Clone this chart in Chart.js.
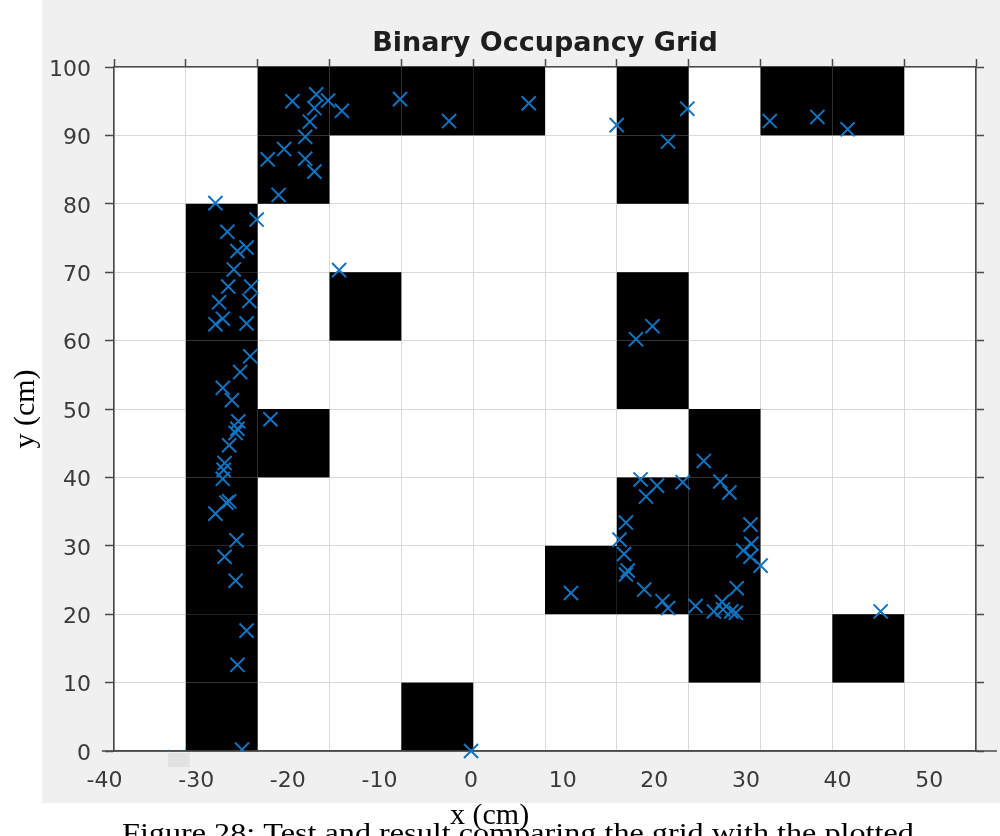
<!DOCTYPE html>
<html>
<head>
<meta charset="utf-8">
<title>Binary Occupancy Grid</title>
<script src="https://cdn.jsdelivr.net/npm/chart.js@4.4.1/dist/chart.umd.min.js"></script>
<style>
  html, body { margin: 0; padding: 0; background: #fff; }
  #wrap { width: 1000px; height: 836px; position: relative; }
  canvas { display: block; }
</style>
</head>
<body>
<div id="wrap"><canvas id="grid" width="1000" height="836"></canvas></div>
<script>
// Cell boundaries of the occupancy grid along x (cm)
const cellEdgesX = [-38.97, -31.13, -23.29, -15.45, -7.61, 0.23, 8.07, 15.91, 23.75, 31.59, 39.43, 47.27, 55.11];
// Cell boundaries along y (cm)
const cellEdgesY = [0, 10, 20, 30, 40, 50, 60, 70, 80, 90, 100];
// Occupied cells: one row per y band, bottom (0-10) to top (90-100); 1 = occupied
const occupancy = [
  [0, 1, 0, 0, 1, 0, 0, 0, 0, 0, 0, 0],
  [0, 1, 0, 0, 0, 0, 0, 0, 1, 0, 1, 0],
  [0, 1, 0, 0, 0, 0, 1, 1, 1, 0, 0, 0],
  [0, 1, 0, 0, 0, 0, 0, 1, 1, 0, 0, 0],
  [0, 1, 1, 0, 0, 0, 0, 0, 1, 0, 0, 0],
  [0, 1, 0, 0, 0, 0, 0, 1, 0, 0, 0, 0],
  [0, 1, 0, 1, 0, 0, 0, 1, 0, 0, 0, 0],
  [0, 1, 0, 0, 0, 0, 0, 0, 0, 0, 0, 0],
  [0, 0, 1, 0, 0, 0, 0, 1, 0, 0, 0, 0],
  [0, 0, 1, 1, 1, 1, 0, 1, 0, 1, 1, 0]
];
// Axis tick labels
const xTickLabels = [-40, -30, -20, -10, 0, 10, 20, 30, 40, 50];
const yTickLabels = [0, 10, 20, 30, 40, 50, 60, 70, 80, 90, 100];

// Measured sensor points (cm)
const scanX = [
  -27.9, -26.6, -25.5, -24.5, -25.9, -26.5, -24.0, -23.4,
  -19.5, -16.9, -17.1, -17.6, -18.1, -20.4, -22.2, -18.1, -17.1, -21.0,
  -15.6, -14.1, -7.75, -2.4, 6.3, 15.9, 21.5, 23.6, 32.6, 37.8, 41.1,
  -27.5, -24.2, -27.1, -27.9, -24.5, -24.1, -25.2, -27.1, -26.1,
  -25.4, -25.5, -25.7, -21.9, -26.4, -26.9, -27.0, -27.1, -26.7, -26.4, -27.9,
  -25.6, -26.9, -25.7, -24.5, -25.5, -25.0, -32.3,
  -14.4, 18.0, 19.8,
  25.4, 27.2, 28.2, 18.5, 20.3, 19.1, 23.1,
  30.5, 30.6, 29.7, 30.5, 31.6,
  16.9, 16.2, 16.7, 17.1, 16.9, 10.9,
  18.9, 20.9, 21.5, 24.5, 29.0, 27.4, 26.5, 27.5, 28.4, 28.9,
  44.7
];
const scanY = [
  80.1, 75.9, 73.1, 73.6, 70.4, 67.9, 67.9, 77.7,
  95.0, 96.0, 94.0, 92.0, 89.8, 88.0, 86.5, 86.6, 84.7, 81.3,
  95.1, 93.6, 95.3, 92.1, 94.7, 91.5, 89.1, 93.9, 92.1, 92.7, 90.9,
  65.6, 65.8, 63.2, 62.4, 62.5, 57.7, 55.4, 53.1, 51.3,
  48.2, 47.1, 46.5, 48.5, 44.7, 42.1, 41.1, 39.8, 36.3, 36.5, 34.7,
  30.8, 28.4, 24.9, 17.6, 12.6, 0.2, -0.9,
  70.3, 60.2, 62.1,
  42.4, 39.4, 37.8, 39.7, 38.8, 37.2, 39.3,
  33.1, 30.3, 29.3, 28.4, 27.1,
  33.4, 30.9, 28.8, 26.4, 25.8, 23.1,
  23.6, 21.9, 20.9, 21.2, 23.8, 21.8, 20.4, 20.7, 20.4, 20.2,
  20.4
];
// Robot start position (cm)
const startX = [0];
const startY = [0];

const axisColor = '#4a4a4a';
const gridColor = '#d9d9d9';
const tickColor = '#3a3a3a';
const markerColor = 'rgb(18,116,192)';
const sansFont = 'DejaVu Sans';
const serifFont = 'Liberation Serif';

const toPoints = (xs, ys) => xs.map((x, i) => ({ x: x, y: ys[i] }));

// Figure background, occupancy cells and free text around the axes
const figurePlugin = {
  id: 'figure',
  beforeDraw(chart) {
    const { ctx, chartArea: a } = chart;
    ctx.save();
    ctx.fillStyle = '#ffffff';
    ctx.fillRect(0, 0, chart.width, chart.height);
    ctx.fillStyle = '#f0f0f0';
    ctx.fillRect(42, 0, chart.width - 42, 803);
    ctx.fillStyle = '#ffffff';
    ctx.fillRect(a.left, a.top, a.right - a.left, a.bottom - a.top);
    ctx.restore();
  },
  beforeDatasetsDraw(chart) {
    const { ctx } = chart;
    const xs = chart.scales.x, ys = chart.scales.y;
    ctx.save();
    ctx.fillStyle = '#000000';
    occupancy.forEach((row, r) => {
      row.forEach((occ, c) => {
        if (!occ) return;
        const x0 = xs.getPixelForValue(cellEdgesX[c]);
        const x1 = xs.getPixelForValue(cellEdgesX[c + 1]);
        const y0 = ys.getPixelForValue(cellEdgesY[r + 1]);
        const y1 = ys.getPixelForValue(cellEdgesY[r]);
        ctx.fillRect(x0, y0, x1 - x0, y1 - y0);
      });
    });
    // bottom axis line of the labelled x axis, which runs a little wider than the grid
    const yb = ys.getPixelForValue(0);
    ctx.strokeStyle = axisColor;
    ctx.lineWidth = 1.6;
    ctx.beginPath();
    ctx.moveTo(xs.getPixelForValue(-40.3), yb);
    ctx.lineTo(xs.getPixelForValue(57.4), yb);
    ctx.stroke();
    ctx.restore();
  },
  afterDraw(chart) {
    const { ctx } = chart;
    ctx.save();
    ctx.fillStyle = '#e2e2e2';
    ctx.fillRect(168, 753, 22, 14);
    ctx.fillStyle = '#000000';
    ctx.textBaseline = 'alphabetic';
    ctx.textAlign = 'left';
    ctx.font = '30px "' + serifFont + '"';
    ctx.fillText('x (cm)', 450, 824);
    // caption line, set slightly wide
    ctx.translate(122, 842);
    ctx.scale(1.15, 1);
    ctx.font = '28px "' + serifFont + '"';
    ctx.fillText('Figure 28: Test and result comparing the grid with the plotted', 0, 0);
    ctx.restore();
  }
};

new Chart(document.getElementById('grid'), {
  type: 'scatter',
  data: {
    datasets: [
      {
        label: 'scan',
        data: toPoints(scanX, scanY),
        xAxisID: 'x',
        yAxisID: 'y',
        pointStyle: 'crossRot',
        pointRadius: 10,
        pointBorderWidth: 2,
        borderColor: markerColor,
        backgroundColor: markerColor,
        clip: 0
      },
      {
        label: 'start',
        data: toPoints(startX, startY),
        xAxisID: 'x',
        yAxisID: 'y',
        pointStyle: 'crossRot',
        pointRadius: 10,
        pointBorderWidth: 2,
        borderColor: markerColor,
        backgroundColor: markerColor,
        clip: false
      }
    ]
  },
  options: {
    responsive: false,
    devicePixelRatio: 1,
    animation: false,
    events: [],
    layout: { padding: 0 },
    plugins: {
      legend: { display: false },
      tooltip: { enabled: false },
      title: { display: false }
    },
    scales: {
      x: {
        type: 'linear',
        position: 'bottom',
        bounds: 'data',
        min: cellEdgesX[0],
        max: cellEdgesX[cellEdgesX.length - 1],
        afterBuildTicks: s => { s.ticks = xTickLabels.map(v => ({ value: v })); },
        afterFit: s => { s.height = 85; },
        grid: { display: true, drawOnChartArea: false, drawTicks: false },
        border: { display: true, color: axisColor, width: 1.6 },
        ticks: {
          autoSkip: false, maxRotation: 0, minRotation: 0, padding: 17,
          color: tickColor, font: { family: sansFont, size: 22 },
          callback: v => String(v)
        }
      },
      x2: {
        type: 'linear',
        position: 'top',
        bounds: 'data',
        min: cellEdgesX[0],
        max: cellEdgesX[cellEdgesX.length - 1],
        afterBuildTicks: s => { s.ticks = cellEdgesX.map(v => ({ value: v })); },
        afterFit: s => { s.height = 67; },
        grid: { color: gridColor, tickColor: axisColor, tickLength: 8, lineWidth: 1, tickWidth: 1.5 },
        border: { display: true, color: axisColor, width: 1.6 },
        ticks: { display: false },
        title: {
          display: true,
          text: 'Binary Occupancy Grid',
          color: '#1e1e1e',
          font: { family: sansFont, size: 27, weight: 'bold' },
          padding: { top: 28, bottom: 0 }
        }
      },
      y: {
        type: 'linear',
        position: 'left',
        bounds: 'data',
        min: 0,
        max: 100,
        afterBuildTicks: s => { s.ticks = yTickLabels.map(v => ({ value: v })); },
        afterFit: s => { s.width = 114; },
        grid: { color: gridColor, tickColor: axisColor, tickLength: 9, lineWidth: 1, tickWidth: 1.5 },
        border: { display: true, color: axisColor, width: 1.6 },
        ticks: {
          autoSkip: false, padding: 14, labelOffset: 3, color: tickColor,
          font: { family: sansFont, size: 22 },
          callback: v => String(v)
        },
        title: {
          display: true,
          text: 'y (cm)',
          color: '#000000',
          font: { family: serifFont, size: 30 },
          padding: { top: 8, bottom: 0 }
        }
      },
      y2: {
        type: 'linear',
        position: 'right',
        bounds: 'data',
        min: 0,
        max: 100,
        afterBuildTicks: s => { s.ticks = yTickLabels.map(v => ({ value: v })); },
        afterFit: s => { s.width = 24; },
        grid: { drawOnChartArea: false, tickColor: axisColor, tickLength: 8, tickWidth: 1.5 },
        border: { display: true, color: axisColor, width: 1.6 },
        ticks: { display: false }
      }
    }
  },
  plugins: [figurePlugin]
});
</script>
</body>
</html>
